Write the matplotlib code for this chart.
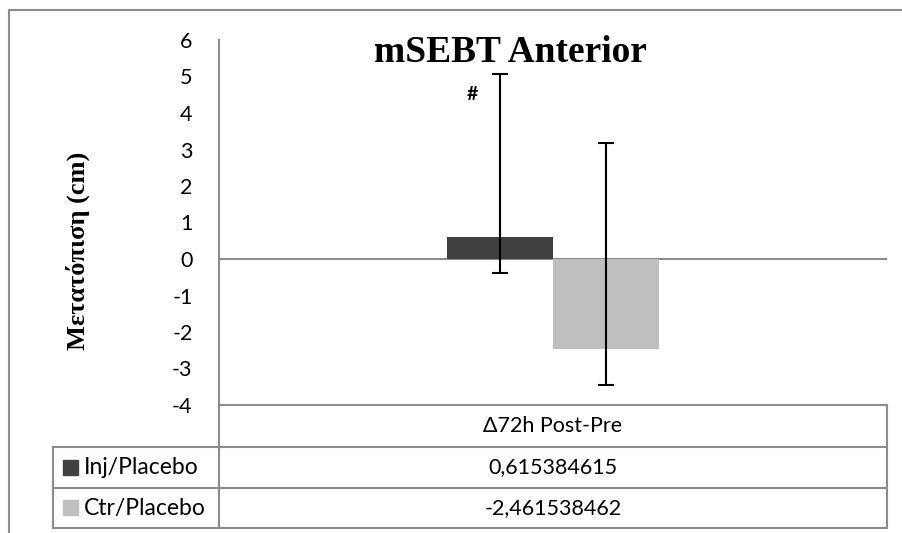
import matplotlib.pyplot as plt
from matplotlib.lines import Line2D
from matplotlib.patches import Rectangle

categories = ["Δ72h Post-Pre"]
series = ["Inj/Placebo", "Ctr/Placebo"]
values = [0.615384615, -2.461538462]
err_minus = [0.99, 0.98]
err_plus = [4.45, 5.65]
colors = ["#404040", "#BFBFBF"]
y_ticks = [-4, -3, -2, -1, 0, 1, 2, 3, 4, 5, 6]

W, H = 903, 533
GRID = "#8C8C8C"
TICK_FONT = "Lato"
SERIF = "Liberation Serif"


def fx(px):
    return px / W


def fy(py):
    return 1 - py / H


fig = plt.figure(figsize=(W / 100, H / 100), dpi=100)

# plot area in pixel terms
left, right, top, bottom = 219, 887, 40, 405
ax = fig.add_axes([fx(left), fy(bottom), fx(right - left), fy(top) - fy(bottom)])
ax.set_xlim(0, 1)
ax.set_ylim(-4, 6)

bw = 106 / (right - left)
xs = [0.5 - bw / 2, 0.5 + bw / 2]
for i in range(len(series)):
    ax.bar(xs[i], values[i], width=bw, color=colors[i], zorder=2)
    ax.errorbar(xs[i], values[i], yerr=[[err_minus[i]], [err_plus[i]]],
                fmt="none", ecolor="black", elinewidth=1.5, capsize=6,
                capthick=1.5, zorder=3)

ax.axhline(0, color=GRID, linewidth=1.5, zorder=1)
ax.text(xs[0] - 0.042, 4.5, "#", fontsize=14, fontweight="bold",
        family=TICK_FONT, ha="center", va="center")

ax.set_yticks(y_ticks)
ax.set_yticklabels([str(t) for t in y_ticks], family=TICK_FONT, fontsize=15.5)
ax.tick_params(axis="y", length=0, pad=19)
ax.set_xticks([])
for s in ["top", "right", "bottom"]:
    ax.spines[s].set_visible(False)
ax.spines["left"].set_color(GRID)
ax.spines["left"].set_linewidth(1.5)
ax.set_facecolor("none")

fig.text(fx(510), fy(53), "mSEBT Anterior", family=SERIF, fontweight="bold",
         fontsize=27, ha="center", va="center")
fig.text(fx(78), fy(251), "Μετατόπιση (cm)", family=SERIF, fontweight="bold",
         fontsize=19, rotation=90, ha="center", va="center")

# data table below the axis
def hline(y, x0, x1):
    fig.add_artist(Line2D([fx(x0), fx(x1)], [fy(y), fy(y)], color=GRID, lw=1.5))


def vline(x, y0, y1):
    fig.add_artist(Line2D([fx(x), fx(x)], [fy(y0), fy(y1)], color=GRID, lw=1.5))


rows = [405, 447, 488, 528]
leg_left = 53
hline(rows[0], left, right)
hline(rows[1], leg_left, right)
hline(rows[2], leg_left, right)
hline(rows[3], leg_left, right)
vline(left, rows[0], rows[3])
vline(right, rows[0], rows[3])
vline(leg_left, rows[1], rows[3])

cx = (left + right) / 2
fig.text(fx(cx), fy((rows[0] + rows[1]) / 2), categories[0], family=TICK_FONT,
         fontsize=15.5, ha="center", va="center")
for i in range(len(series)):
    yc = (rows[i + 1] + rows[i + 2]) / 2
    fig.add_artist(Rectangle((fx(63), fy(yc + 7)), fx(15), fy(yc - 8) - fy(yc + 7),
                             color=colors[i]))
    fig.text(fx(84), fy(yc), series[i], family=TICK_FONT, fontsize=16.5,
             ha="left", va="center")
    fig.text(fx(cx), fy(yc), f"{values[i]:.9f}".replace(".", ","),
             family=TICK_FONT, fontsize=15.5, ha="center", va="center")

# outer chart frame (cropped: only top and left visible)
fig.add_artist(Line2D([fx(9), fx(903)], [fy(10), fy(10)], color=GRID, lw=1.5))
fig.add_artist(Line2D([fx(9), fx(9)], [fy(10), fy(533)], color=GRID, lw=1.5))

fig.savefig("out.png", dpi=100)
